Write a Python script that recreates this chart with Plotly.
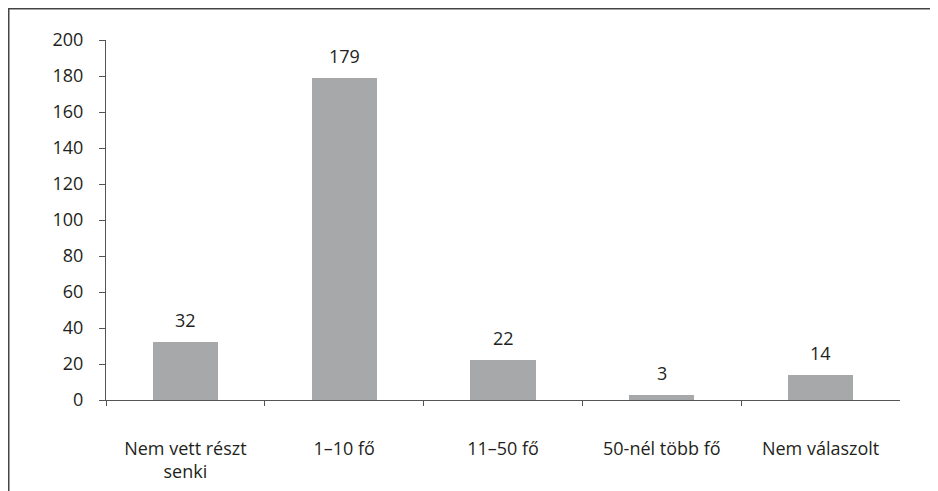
import plotly.graph_objects as go

categories = ["Nem vett részt<br>senki", "1–10 fő", "11–50 fő", "50-nél több fő", "Nem válaszolt"]
values = [32, 179, 22, 3, 14]
y_ticks = [0, 20, 40, 60, 80, 100, 120, 140, 160, 180, 200]

xpos = list(range(len(categories)))
font_family = "Open Sans, Lato, sans-serif"
text_color = "#231f20"
axis_color = "#555555"
FS = 18

fig = go.Figure()
fig.add_trace(go.Bar(
    x=xpos, y=values, width=0.41,
    marker=dict(color="#a7a8aa", line=dict(width=0)),
    hoverinfo="x+y",
))

annotations = [
    dict(x=xi, y=v, xref="x", yref="y", text=str(v), showarrow=False,
         yanchor="bottom", yshift=8,
         font=dict(family=font_family, size=FS, color=text_color))
    for xi, v in zip(xpos, values)
]

fig.update_layout(
    width=930, height=483,
    margin=dict(l=98, r=38, t=32, b=91),
    paper_bgcolor="white", plot_bgcolor="white",
    showlegend=False,
    bargap=0,
    font=dict(family=font_family, size=FS, color=text_color),
    annotations=annotations,
    xaxis=dict(
        range=[-0.5, 4.5], automargin=False,
        tickvals=xpos, ticktext=categories,
        ticks="", showgrid=False, zeroline=False,
        showline=True, linecolor=axis_color, linewidth=1,
        ticklabelstandoff=32,
        tickfont=dict(family=font_family, size=FS, color=text_color),
        minor=dict(tickvals=[-0.5, 0.5, 1.5, 2.5, 3.5], ticks="outside",
                   ticklen=5, tickcolor=axis_color, tickwidth=1, showgrid=False),
    ),
    yaxis=dict(
        range=[0, 200], tickvals=y_ticks, automargin=False,
        ticks="outside", ticklen=6, tickcolor=axis_color, tickwidth=1,
        showgrid=False, zeroline=False,
        showline=True, linecolor=axis_color, linewidth=1,
        ticklabelstandoff=12,
        tickfont=dict(family=font_family, size=FS, color=text_color),
    ),
    shapes=[
        dict(type="line", xref="paper", yref="paper",
             x0=-0.1234, x1=1.05, y0=1.0875, y1=1.0875,
             line=dict(color="#444444", width=2)),
        dict(type="line", xref="paper", yref="paper",
             x0=-0.1228, x1=-0.1228, y0=1.0889, y1=-0.26,
             line=dict(color="#444444", width=2)),
    ],
)

fig.write_html("out.html")
